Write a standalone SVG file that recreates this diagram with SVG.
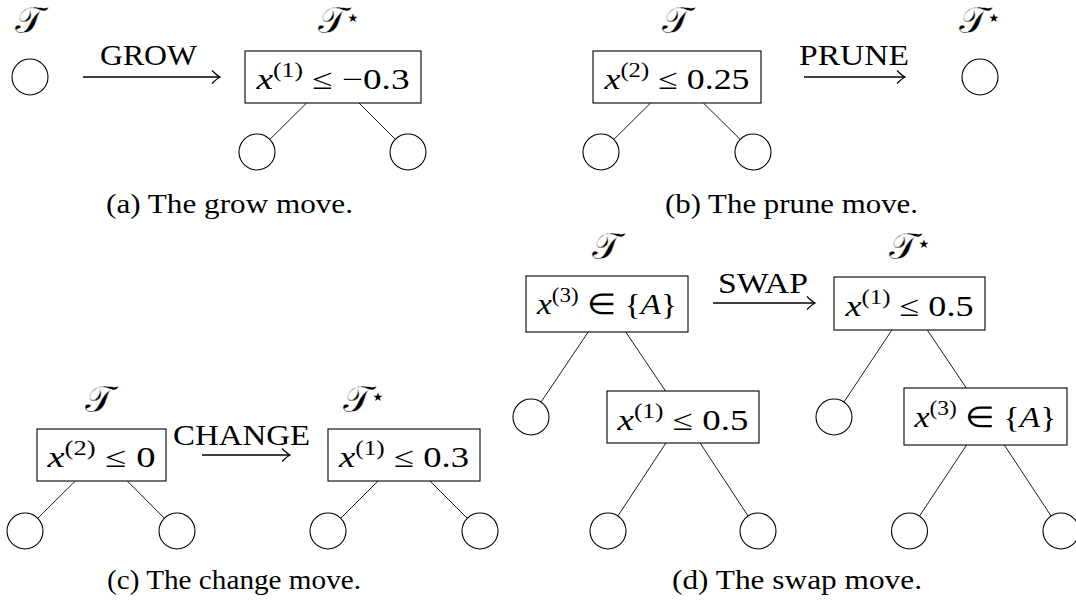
<svg xmlns="http://www.w3.org/2000/svg" width="1076" height="602" viewBox="0 0 1076 602">
<style>
text { font-family: "Liberation Serif", serif; fill: #000; }
.m { font-size: 29px; }
.sup { font-size: 20px; }
.i { font-style: italic; }
.cap { font-size: 28px; }
.lbl { font-size: 38px; font-family: "DejaVu Serif", "DejaVu Sans", "Liberation Serif", serif; stroke: #fff; stroke-width: 0.35px; }
.star { font-size: 12px; font-family: "DejaVu Sans", sans-serif; }
.box { fill: #fff; stroke: #000; stroke-width: 1.1; }
.leaf { fill: #fff; stroke: #000; stroke-width: 1.1; }
.edge { stroke: #000; stroke-width: 0.9; fill: none; }
.arr { stroke: #000; stroke-width: 1.3; fill: none; marker-end: url(#ah); }
</style>
<defs>
<marker id="ah" viewBox="-10 -8 12 16" refX="0" refY="0" markerWidth="12" markerHeight="16" markerUnits="userSpaceOnUse" orient="auto" overflow="visible">
<path d="M-8,-6.5 Q-3,-1.5 0,0 Q-3,1.5 -8,6.5" fill="none" stroke="#000" stroke-width="1.2"/>
</marker>
</defs>
<rect width="1076" height="602" fill="#fff"/>

<g id="connectors">
<line class="edge" x1="306.6" y1="103" x2="269.8" y2="139.4"/>
<line class="edge" x1="359" y1="103" x2="395.3" y2="139.3"/>
<line class="edge" x1="650.6" y1="103" x2="613.8" y2="139.4"/>
<line class="edge" x1="703.4" y1="103" x2="740.2" y2="139.4"/>
<line class="edge" x1="75.3" y1="481" x2="37.8" y2="518.3"/>
<line class="edge" x1="127.3" y1="481" x2="164.3" y2="518.2"/>
<line class="edge" x1="378" y1="481" x2="340.7" y2="518.3"/>
<line class="edge" x1="430" y1="481" x2="467.3" y2="518.3"/>
<line class="edge" x1="588.2" y1="332" x2="541" y2="402.1"/>
<line class="edge" x1="625.8" y1="332" x2="665.5" y2="391"/>
<line class="edge" x1="665.9" y1="443" x2="617.9" y2="516"/>
<line class="edge" x1="700.1" y1="443" x2="748.1" y2="516"/>
<line class="edge" x1="891.9" y1="330" x2="844" y2="402"/>
<line class="edge" x1="927.3" y1="330" x2="966.3" y2="388"/>
<line class="edge" x1="966.6" y1="445" x2="919.5" y2="516"/>
<line class="edge" x1="1004.3" y1="445" x2="1051.1" y2="516"/>
<line class="arr" x1="83" y1="77" x2="220" y2="77"/>
<line class="arr" x1="804" y1="77" x2="905" y2="77"/>
<line class="arr" x1="202" y1="455" x2="290" y2="455"/>
<line class="arr" x1="713" y1="303" x2="815" y2="303"/>
</g>

<g id="move-labels">
<text class="m" x="148.5" y="65" text-anchor="middle" textLength="97" lengthAdjust="spacingAndGlyphs">GROW</text>
<text class="m" x="854" y="65" text-anchor="middle" textLength="110" lengthAdjust="spacingAndGlyphs">PRUNE</text>
<text class="m" x="241.5" y="445" text-anchor="middle" textLength="137" lengthAdjust="spacingAndGlyphs">CHANGE</text>
<text class="m" x="763" y="293" text-anchor="middle" textLength="90" lengthAdjust="spacingAndGlyphs">SWAP</text>
</g>

<g id="tree-labels">
<text class="lbl" x="29" y="33" text-anchor="middle">𝒯</text>
<text class="lbl" x="332" y="33" text-anchor="middle">𝒯</text><text class="star" x="353" y="22" text-anchor="middle">★</text>
<text class="lbl" x="676" y="33" text-anchor="middle">𝒯</text>
<text class="lbl" x="973" y="33" text-anchor="middle">𝒯</text><text class="star" x="994" y="22" text-anchor="middle">★</text>
<text class="lbl" x="99" y="412" text-anchor="middle">𝒯</text>
<text class="lbl" x="357" y="412" text-anchor="middle">𝒯</text><text class="star" x="378" y="401" text-anchor="middle">★</text>
<text class="lbl" x="606" y="259" text-anchor="middle">𝒯</text>
<text class="lbl" x="903" y="259" text-anchor="middle">𝒯</text><text class="star" x="924" y="248" text-anchor="middle">★</text>
</g>

<g id="a-leaf"><circle class="leaf" cx="30" cy="77" r="18"/></g>
<g id="a-root">
<rect class="box" x="245" y="51" width="176" height="52"/>
<text class="m" x="333" y="89" text-anchor="middle" textLength="153" lengthAdjust="spacingAndGlyphs"><tspan class="i">x</tspan><tspan class="sup" dy="-12">(1)</tspan><tspan dy="12"> ≤ −0.3</tspan></text>
</g>
<g id="a-left"><circle class="leaf" cx="257" cy="152" r="18"/></g>
<g id="a-right"><circle class="leaf" cx="408" cy="152" r="18"/></g>
<text class="cap" x="229.5" y="213" text-anchor="middle" textLength="247" lengthAdjust="spacingAndGlyphs">(a) The grow move.</text>

<g id="b-root">
<rect class="box" x="593" y="51" width="168" height="52"/>
<text class="m" x="677" y="89" text-anchor="middle" textLength="145" lengthAdjust="spacingAndGlyphs"><tspan class="i">x</tspan><tspan class="sup" dy="-12">(2)</tspan><tspan dy="12"> ≤ 0.25</tspan></text>
</g>
<g id="b-left"><circle class="leaf" cx="601" cy="152" r="18"/></g>
<g id="b-right"><circle class="leaf" cx="753" cy="152" r="18"/></g>
<g id="b-leaf"><circle class="leaf" cx="980" cy="77" r="18"/></g>
<text class="cap" x="791.5" y="213" text-anchor="middle" textLength="253" lengthAdjust="spacingAndGlyphs">(b) The prune move.</text>

<g id="c-root1">
<rect class="box" x="37" y="429" width="129" height="52"/>
<text class="m" x="101.5" y="467" text-anchor="middle" textLength="108" lengthAdjust="spacingAndGlyphs"><tspan class="i">x</tspan><tspan class="sup" dy="-12">(2)</tspan><tspan dy="12"> ≤ 0</tspan></text>
</g>
<g id="c-left1"><circle class="leaf" cx="25" cy="531" r="18"/></g>
<g id="c-right1"><circle class="leaf" cx="177" cy="531" r="18"/></g>
<g id="c-root2">
<rect class="box" x="328" y="429" width="152" height="52"/>
<text class="m" x="404" y="467" text-anchor="middle" textLength="130" lengthAdjust="spacingAndGlyphs"><tspan class="i">x</tspan><tspan class="sup" dy="-12">(1)</tspan><tspan dy="12"> ≤ 0.3</tspan></text>
</g>
<g id="c-left2"><circle class="leaf" cx="328" cy="531" r="18"/></g>
<g id="c-right2"><circle class="leaf" cx="480" cy="531" r="18"/></g>
<text class="cap" x="234" y="589" text-anchor="middle" textLength="254" lengthAdjust="spacingAndGlyphs">(c) The change move.</text>

<g id="d-root1">
<rect class="box" x="526" y="276" width="162" height="56"/>
<text class="m" x="607" y="314" text-anchor="middle" textLength="140" lengthAdjust="spacingAndGlyphs"><tspan class="i">x</tspan><tspan class="sup" dy="-12">(3)</tspan><tspan dy="12"> ∈ {</tspan><tspan class="i">A</tspan>}</text>
</g>
<g id="d-leaf1"><circle class="leaf" cx="531" cy="417" r="18"/></g>
<g id="d-child1">
<rect class="box" x="607" y="391" width="152" height="52"/>
<text class="m" x="683" y="430" text-anchor="middle" textLength="131" lengthAdjust="spacingAndGlyphs"><tspan class="i">x</tspan><tspan class="sup" dy="-12">(1)</tspan><tspan dy="12"> ≤ 0.5</tspan></text>
</g>
<g id="d-ll1"><circle class="leaf" cx="608" cy="531" r="18"/></g>
<g id="d-lr1"><circle class="leaf" cx="758" cy="531" r="18"/></g>
<g id="d-root2">
<rect class="box" x="834" y="277" width="151" height="53"/>
<text class="m" x="909.5" y="316" text-anchor="middle" textLength="128" lengthAdjust="spacingAndGlyphs"><tspan class="i">x</tspan><tspan class="sup" dy="-12">(1)</tspan><tspan dy="12"> ≤ 0.5</tspan></text>
</g>
<g id="d-leaf2"><circle class="leaf" cx="834" cy="417" r="18"/></g>
<g id="d-child2">
<rect class="box" x="904" y="388" width="163" height="57"/>
<text class="m" x="985.5" y="427" text-anchor="middle" textLength="142" lengthAdjust="spacingAndGlyphs"><tspan class="i">x</tspan><tspan class="sup" dy="-12">(3)</tspan><tspan dy="12"> ∈ {</tspan><tspan class="i">A</tspan>}</text>
</g>
<g id="d-ll2"><circle class="leaf" cx="909.5" cy="531" r="18"/></g>
<g id="d-lr2"><circle class="leaf" cx="1061" cy="531" r="18"/></g>
<text class="cap" x="797" y="589" text-anchor="middle" textLength="250" lengthAdjust="spacingAndGlyphs">(d) The swap move.</text>
</svg>
